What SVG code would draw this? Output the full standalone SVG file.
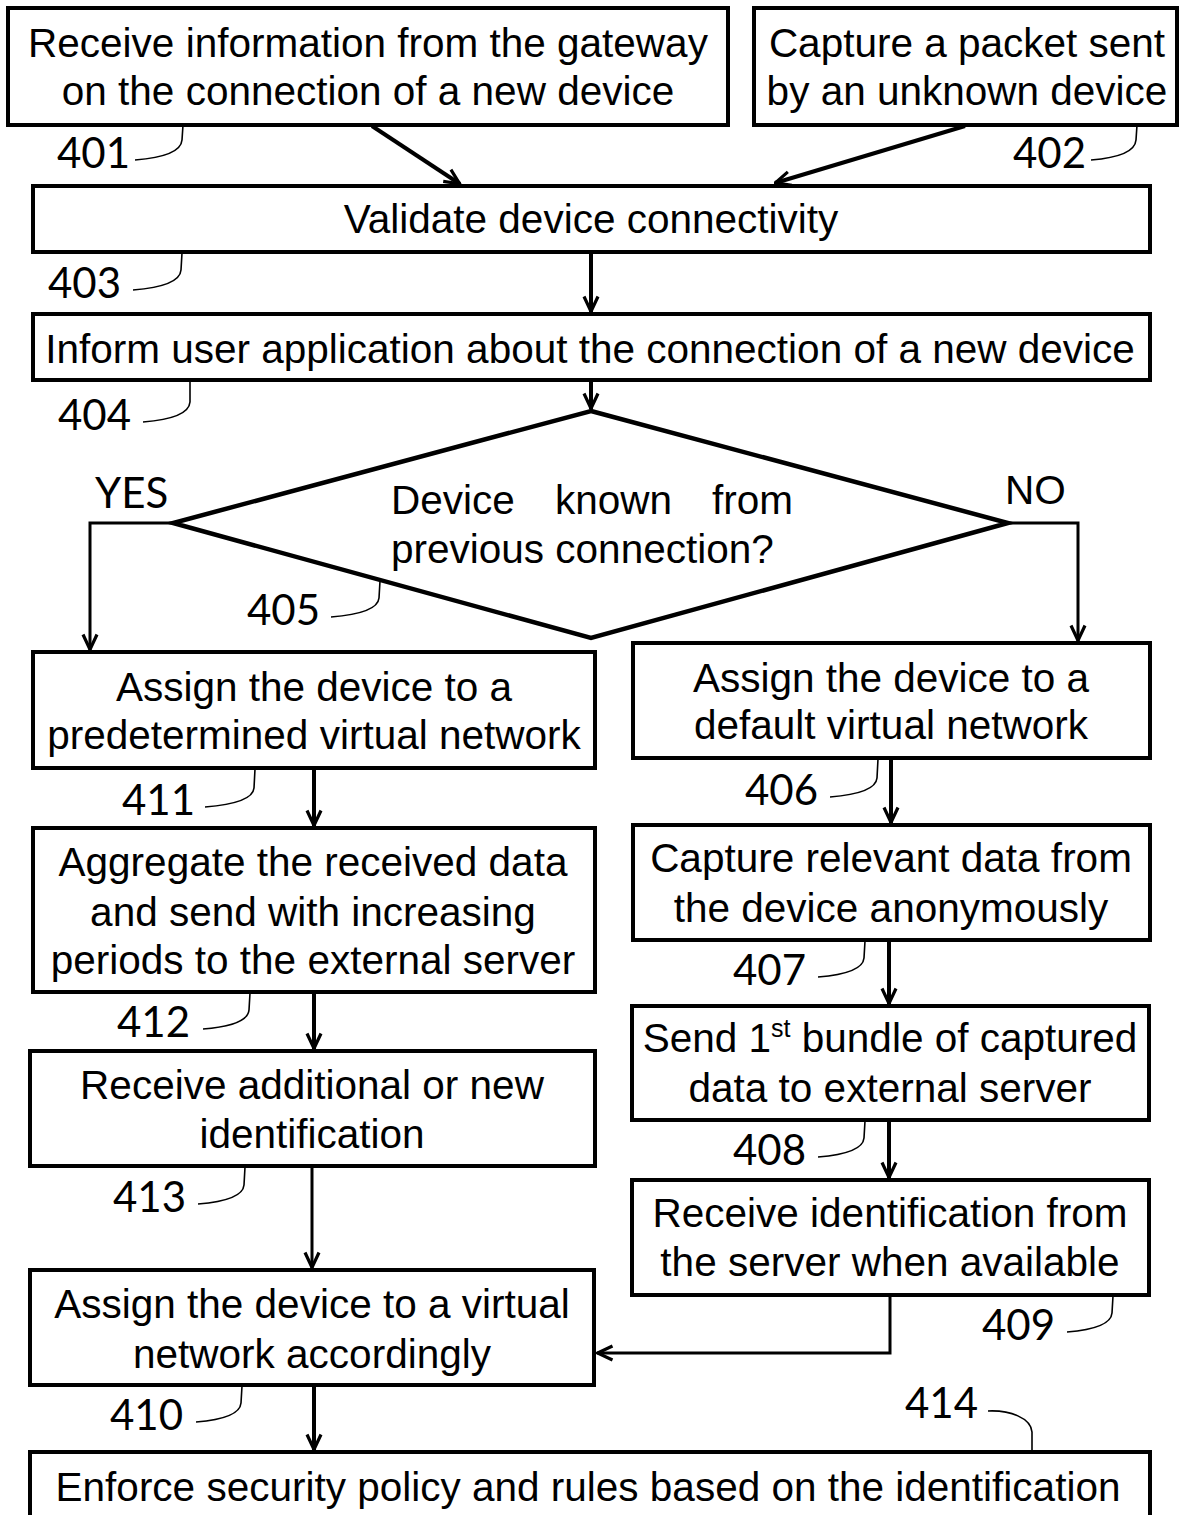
<svg xmlns="http://www.w3.org/2000/svg" width="1179" height="1515" viewBox="0 0 1179 1515">
<style>
.box{fill:#fff;stroke:#000;stroke-width:4}
.t{font-family:"Liberation Sans",Arial,sans-serif;font-size:40.5px;fill:#000;text-anchor:middle}
.n{font-family:Lato,"Open Sans",sans-serif;font-size:42px;fill:#000}
.c{fill:none;stroke:#000;stroke-width:4}
.c2{fill:none;stroke:#000;stroke-width:3}
.ld{fill:none;stroke:#000;stroke-width:1.6}
</style>
<defs>
<marker id="ah" markerUnits="userSpaceOnUse" viewBox="0 0 18 18" refX="17" refY="9" markerWidth="18" markerHeight="18" orient="auto">
<path d="M1.5,2 L16.5,9 L1.5,16" fill="none" stroke="#000" stroke-width="3.2"/>
</marker>
</defs>
<rect width="1179" height="1515" fill="#fff"/>
<g id="connectors">
<line class="c" x1="372" y1="126" x2="460" y2="184" marker-end="url(#ah)"/>
<line class="c" x1="965" y1="126" x2="775" y2="183" marker-end="url(#ah)"/>
<line class="c" x1="591" y1="252" x2="591" y2="312" marker-end="url(#ah)"/>
<line class="c" x1="591" y1="381" x2="591" y2="409" marker-end="url(#ah)"/>
<polyline class="c2" points="173,523 90,523 90,650" marker-end="url(#ah)"/>
<polyline class="c2" points="1008,523 1078,523 1078,641" marker-end="url(#ah)"/>
<line class="c" x1="314" y1="769" x2="314" y2="826" marker-end="url(#ah)"/>
<line class="c" x1="314" y1="993" x2="314" y2="1049" marker-end="url(#ah)"/>
<line class="c2" x1="312" y1="1167" x2="312" y2="1268" marker-end="url(#ah)"/>
<line class="c" x1="314" y1="1386" x2="314" y2="1450" marker-end="url(#ah)"/>
<line class="c" x1="891" y1="759" x2="891" y2="823" marker-end="url(#ah)"/>
<line class="c" x1="889" y1="941" x2="889" y2="1004" marker-end="url(#ah)"/>
<line class="c" x1="889" y1="1121" x2="889" y2="1178" marker-end="url(#ah)"/>
<polyline class="c2" points="890,1296 890,1353 597,1353" marker-end="url(#ah)"/>
</g>
<g id="n401"><rect class="box" x="8" y="8" width="720" height="117"/>
<text class="t" x="368" y="57">Receive information from the gateway</text>
<text class="t" x="368" y="105">on the connection of a new device</text></g>
<g id="n402"><rect class="box" x="754" y="8" width="423" height="117"/>
<text class="t" x="967" y="57">Capture a packet sent</text>
<text class="t" x="967" y="105">by an unknown device</text></g>
<g id="n403"><rect class="box" x="33" y="186" width="1117" height="66"/>
<text class="t" x="591" y="233">Validate device connectivity</text></g>
<g id="n404"><rect class="box" x="33" y="314" width="1117" height="66"/>
<text class="t" x="590" y="363">Inform user application about the connection of a new device</text></g>
<g id="n405"><polygon points="591,411 1008,523 591,638 173,523" fill="#fff" stroke="#000" stroke-width="4.5" stroke-linejoin="miter"/>
<text class="t" style="text-anchor:start" y="514"><tspan x="391">Device</tspan><tspan x="555">known</tspan><tspan x="712">from</tspan></text>
<text class="t" style="text-anchor:start" x="391" y="563">previous connection?</text></g>
<g id="n411"><rect class="box" x="33" y="652" width="562" height="116"/>
<text class="t" x="314" y="701">Assign the device to a</text>
<text class="t" x="314" y="749">predetermined virtual network</text></g>
<g id="n406"><rect class="box" x="633" y="643" width="517" height="115"/>
<text class="t" x="891" y="692">Assign the device to a</text>
<text class="t" x="891" y="739">default virtual network</text></g>
<g id="n412"><rect class="box" x="33" y="828" width="562" height="164"/>
<text class="t" x="313" y="876">Aggregate the received data</text>
<text class="t" x="313" y="926">and send with increasing</text>
<text class="t" x="313" y="974">periods to the external server</text></g>
<g id="n407"><rect class="box" x="633" y="825" width="517" height="115"/>
<text class="t" x="891" y="872">Capture relevant data from</text>
<text class="t" x="891" y="922">the device anonymously</text></g>
<g id="n408"><rect class="box" x="632" y="1006" width="517" height="114"/>
<text class="t" x="890" y="1052">Send 1<tspan font-size="25" dy="-15">st</tspan><tspan dy="15"> bundle of captured</tspan></text>
<text class="t" x="890" y="1102">data to external server</text></g>
<g id="n413"><rect class="box" x="30" y="1051" width="565" height="115"/>
<text class="t" x="312" y="1099">Receive additional or new</text>
<text class="t" x="312" y="1148">identification</text></g>
<g id="n409"><rect class="box" x="632" y="1180" width="517" height="115"/>
<text class="t" x="890" y="1227">Receive identification from</text>
<text class="t" x="890" y="1276">the server when available</text></g>
<g id="n410"><rect class="box" x="30" y="1270" width="564" height="115"/>
<text class="t" x="312" y="1318">Assign the device to a virtual</text>
<text class="t" x="312" y="1368">network accordingly</text></g>
<g id="n414"><rect class="box" x="30" y="1452" width="1120" height="100"/>
<text class="t" x="588" y="1501">Enforce security policy and rules based on the identification</text></g>
<g id="labels">
<text class="n" x="95" y="508">YES</text>
<text class="t" style="text-anchor:start" x="1005" y="504">NO</text>
<text class="n" x="57" y="168">401</text>
<path class="ld" d="M135,160 C160,158 181,153 182,140 L183,125"/>
<text class="n" x="1013" y="168">402</text>
<path class="ld" d="M1091,160 C1116,158 1135,153 1136,140 L1137,125"/>
<text class="n" x="48" y="298">403</text>
<path class="ld" d="M133,290 C158,288 180,283 181,270 L182,253"/>
<text class="n" x="58" y="430">404</text>
<path class="ld" d="M143,422 C168,420 189,415 190,402 L190,382"/>
<text class="n" x="247" y="625">405</text>
<path class="ld" d="M331,617 C356,615 378,610 379,598 L380,581"/>
<text class="n" x="122" y="815">411</text>
<path class="ld" d="M205,807 C230,805 253,800 254,788 L255,769"/>
<text class="n" x="745" y="805">406</text>
<path class="ld" d="M830,797 C855,795 876,790 877,778 L878,759"/>
<text class="n" x="117" y="1037">412</text>
<path class="ld" d="M203,1029 C228,1027 248,1022 249,1010 L250,993"/>
<text class="n" x="733" y="985">407</text>
<path class="ld" d="M818,977 C843,975 863,970 864,958 L865,941"/>
<text class="n" x="113" y="1212">413</text>
<path class="ld" d="M198,1204 C223,1202 243,1197 244,1185 L245,1167"/>
<text class="n" x="733" y="1165">408</text>
<path class="ld" d="M818,1157 C843,1155 863,1150 864,1138 L865,1121"/>
<text class="n" x="982" y="1340">409</text>
<path class="ld" d="M1067,1332 C1092,1330 1111,1325 1112,1313 L1113,1296"/>
<text class="n" x="110" y="1430">410</text>
<path class="ld" d="M196,1422 C221,1420 240,1415 241,1403 L242,1386"/>
<text class="n" x="905" y="1418">414</text>
<path class="ld" d="M988,1411 C1010,1410 1031,1418 1032,1432 L1032,1452"/>
</g>
</svg>
